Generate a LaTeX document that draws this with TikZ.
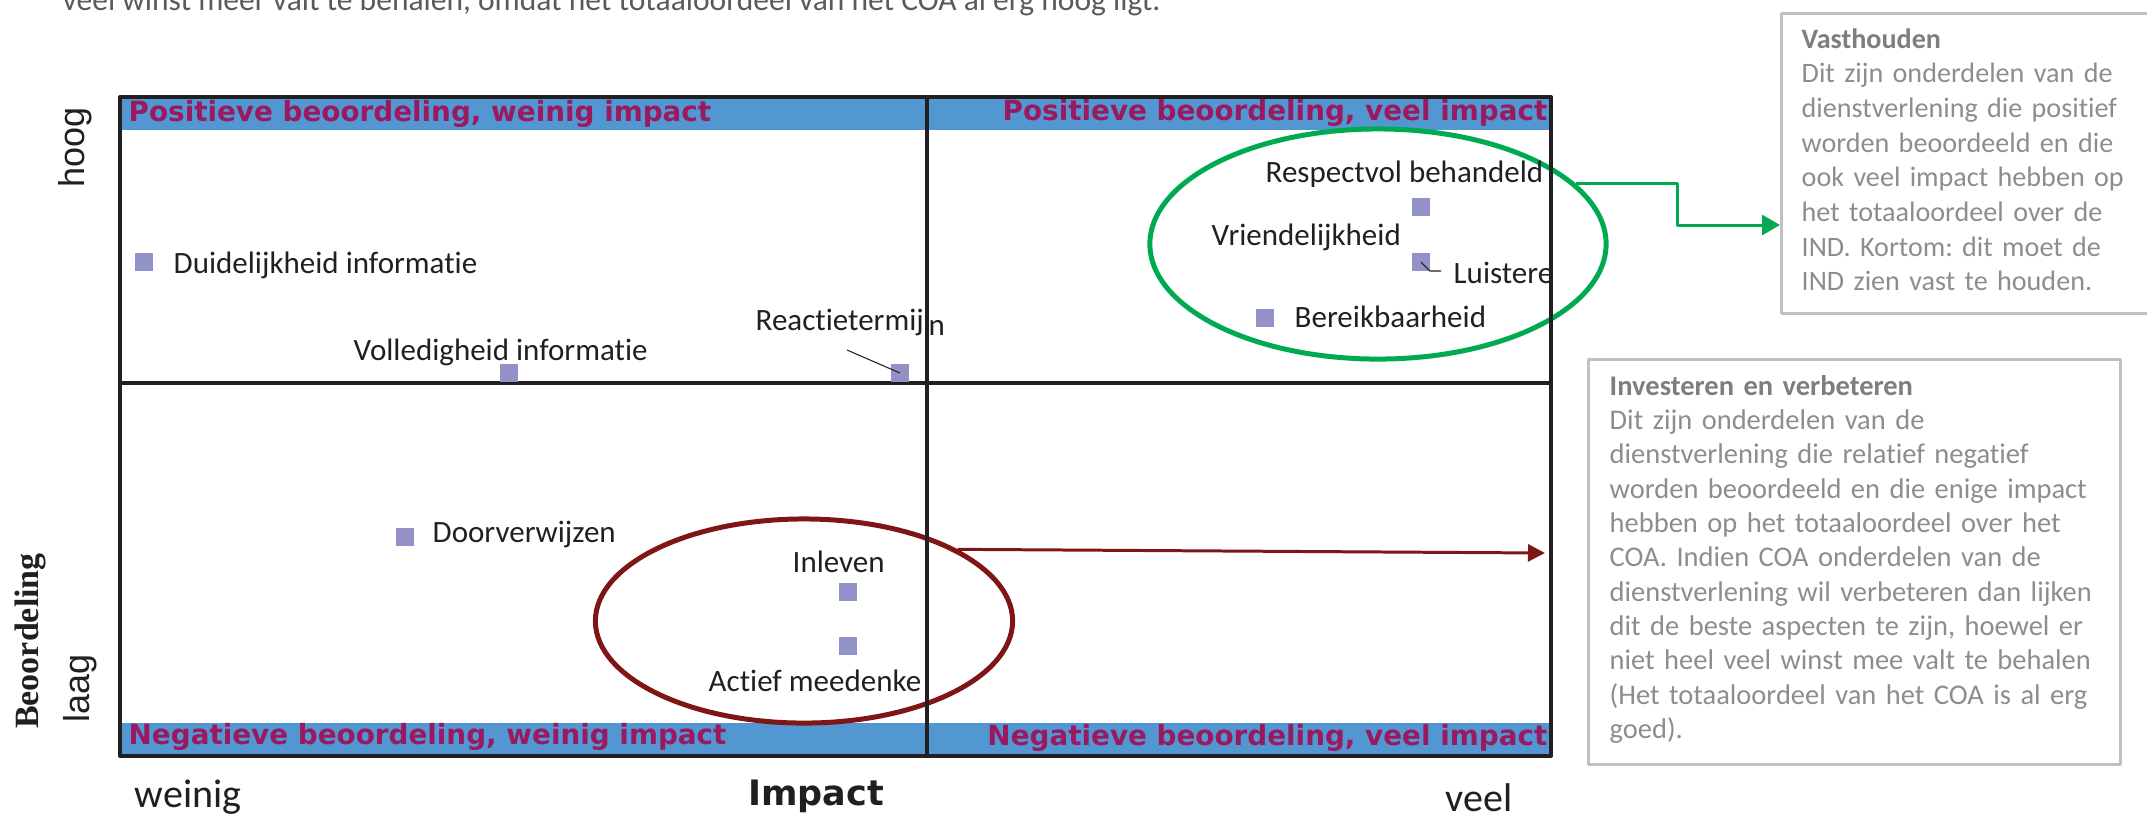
\documentclass[tikz,border=0pt]{standalone}
\usepackage{fontspec}
\setmainfont{Carlito}[Ligatures=NoCommon]
\newfontfamily\bandfont{DejaVu Sans}
\newfontfamily\axisfont{Liberation Sans}
\newfontfamily\titlefont{Liberation Serif}
\usetikzlibrary{arrows.meta,shapes.geometric}
\frenchspacing
\definecolor{bandblue}{RGB}{83,151,210}
\definecolor{bandtext}{RGB}{155,25,95}
\definecolor{sqfill}{RGB}{146,146,200}
\definecolor{holdgreen}{RGB}{0,170,80}
\definecolor{investred}{RGB}{128,21,21}
\definecolor{boxline}{RGB}{192,192,192}
\definecolor{boxtext}{RGB}{140,140,145}
\definecolor{boxhead}{RGB}{125,125,130}
\definecolor{toptext}{RGB}{90,90,90}
\definecolor{framecol}{RGB}{35,31,32}
\begin{document}
\begin{tikzpicture}[x=0.01cm,y=-0.01cm,line join=round,
    sq/.style={rectangle,fill=sqfill,inner sep=0pt,minimum width=0.18cm,minimum height=0.18cm},
    lbl/.style={anchor=base west,inner sep=0pt,text=framecol,font=\fontsize{8.82}{10}\selectfont},
    band/.style={inner sep=0pt,text=bandtext,font=\bandfont\bfseries\fontsize{7.91}{9}\selectfont},
    axis/.style={inner sep=0pt,text=framecol,font=\axisfont\fontsize{10.24}{12}\selectfont,rotate=90},
    ring/.style={ellipse,draw,line width=1.42pt,inner sep=0pt},
    infobox/.style={draw=boxline,line width=0.75pt,inner sep=0pt,anchor=north west},
    infotext/.style={anchor=base west,inner sep=0pt,align=left,text=boxtext}]
  \useasboundingbox (0,0) rectangle (2147,817);
  \node[anchor=base west,inner sep=0pt,text=toptext,font=\fontsize{8.96}{11}\selectfont] (topLine)
    at (62,10) {veel winst meer valt te behalen, omdat het totaaloordeel van het COA al erg hoog ligt.};
  \fill[bandblue] (120,97) rectangle (1551,130);
  \fill[bandblue] (120,723) rectangle (1551,756);
  \node[band,anchor=base west] (posLow) at (128,121) {Positieve beoordeling, weinig impact};
  \node[band,anchor=base east] (posHigh) at (1548,120) {Positieve beoordeling, veel impact};
  \node[band,anchor=base west] (negLow) at (128,744) {Negatieve beoordeling, weinig impact};
  \node[band,anchor=base east] (negHigh) at (1548,745) {Negatieve beoordeling, veel impact};
  \node[ring,draw=holdgreen,minimum width=4.56cm,minimum height=2.3cm] (ringHold) at (1378,244) {};
  \node[ring,draw=investred,minimum width=4.17cm,minimum height=2.04cm] (ringInvest) at (804,621) {};
  \draw[framecol,line width=1.14pt] (120,97) rectangle (1551,756);
  \draw[framecol,line width=1.14pt] (927,97) -- (927,756) (120,383) -- (1551,383);
  \node[sq] (sqDuid) at (144,262) {};
  \node[sq] (sqVoll) at (509,373) {};
  \node[sq] (sqReac) at (900,373) {};
  \node[sq] (sqResp) at (1421,207) {};
  \node[sq] (sqLuis) at (1421,262) {};
  \node[sq] (sqBere) at (1265,318) {};
  \node[sq] (sqDoor) at (405,537) {};
  \node[sq] (sqInle) at (848,592) {};
  \node[sq] (sqActi) at (848,646) {};
  \node[lbl] (lbDuid) at (173,273) {Duidelijkheid informatie};
  \node[lbl] (lbVoll) at (353,360) {Volledigheid informatie};
  \node[lbl] (lbReac) at (755,330) {Reactietermij};
  \node[lbl] (lbReacN) at (928,335) {n};
  \node[lbl] (lbResp) at (1265,182) {Respectvol behandeld};
  \node[lbl] (lbVrie) at (1211,245) {Vriendelijkheid};
  \node[lbl] (lbLuis) at (1453,283) {Luistere};
  \node[lbl] (lbBere) at (1294,327) {Bereikbaarheid};
  \node[lbl] (lbDoor) at (432,542) {Doorverwijzen};
  \node[lbl] (lbInle) at (792,572) {Inleven};
  \node[lbl] (lbActi) at (708,691) {Actief meedenke};
  \coordinate (reacTail) at (847,350);
  \draw[framecol,line width=0.3pt] (reacTail) -- (sqReac.center);
  \coordinate (luisBend) at (1430,271);
  \coordinate (luisTail) at (1441,271);
  \draw[framecol,line width=0.3pt] (sqLuis.center) -- (luisBend) -- (luisTail);
  \node[axis] (hoog) at (75,147) {hoog};
  \node[axis] (laag) at (80,688) {laag};
  \node[inner sep=0pt,rotate=90,text=framecol,font=\titlefont\bfseries\fontsize{9.67}{11}\selectfont]
    (beoord) at (30,641) {Beoordeling};
  \node[anchor=base west,inner sep=0pt,text=framecol,font=\fontsize{11.4}{13}\selectfont] (weinig) at (134,807) {weinig};
  \node[anchor=base,inner sep=0pt,text=framecol,font=\bandfont\bfseries\fontsize{9.96}{12}\selectfont] (impact) at (816,805) {Impact};
  \node[anchor=base west,inner sep=0pt,text=framecol,font=\fontsize{11.4}{13}\selectfont] (veel) at (1445,811) {veel};
  \node[infobox,minimum width=3.72cm,minimum height=3cm] (boxHold) at (1780,12) {};
  \node[infobox,minimum width=5.32cm,minimum height=4.05cm] (boxInvest) at (1587,358) {};
  \node[infotext,text width=3.4cm,font=\fontsize{8.0}{9.87}\selectfont] (txtHold) at (1801,48)
    {\textcolor{boxhead}{\bfseries Vasthouden}\\ Dit zijn onderdelen van de\\ dienstverlening die positief\\
     worden beoordeeld en die\\ ook veel impact hebben op\\ het totaaloordeel over de\\
     IND. Kortom: dit moet de\\ IND zien vast te houden.};
  \node[infotext,text width=5.1cm,font=\fontsize{8.1}{9.77}\selectfont] (txtInvest) at (1609,395)
    {\textcolor{boxhead}{\bfseries Investeren en verbeteren}\\ Dit zijn onderdelen van de\\
     dienstverlening die relatief negatief\\ worden beoordeeld en die enige impact\\
     hebben op het totaaloordeel over het\\ COA. Indien COA onderdelen van de\\
     dienstverlening wil verbeteren dan lijken\\ dit de beste aspecten te zijn, hoewel er\\
     niet heel veel winst mee valt te behalen\\ (Het totaaloordeel van het COA is al erg\\ goed).};
  \coordinate (greenBend) at (1677,225);
  \draw[holdgreen,line width=0.85pt,-{Triangle[length=0.18cm,width=0.2cm]}]
    (ringHold.17) -| (greenBend) -- (greenBend -| boxHold.west);
  \coordinate (redHead) at (1545,553);
  \draw[investred,line width=0.85pt,-{Triangle[length=0.17cm,width=0.17cm]}] (ringInvest.25) -- (redHead);
\end{tikzpicture}
\end{document}
